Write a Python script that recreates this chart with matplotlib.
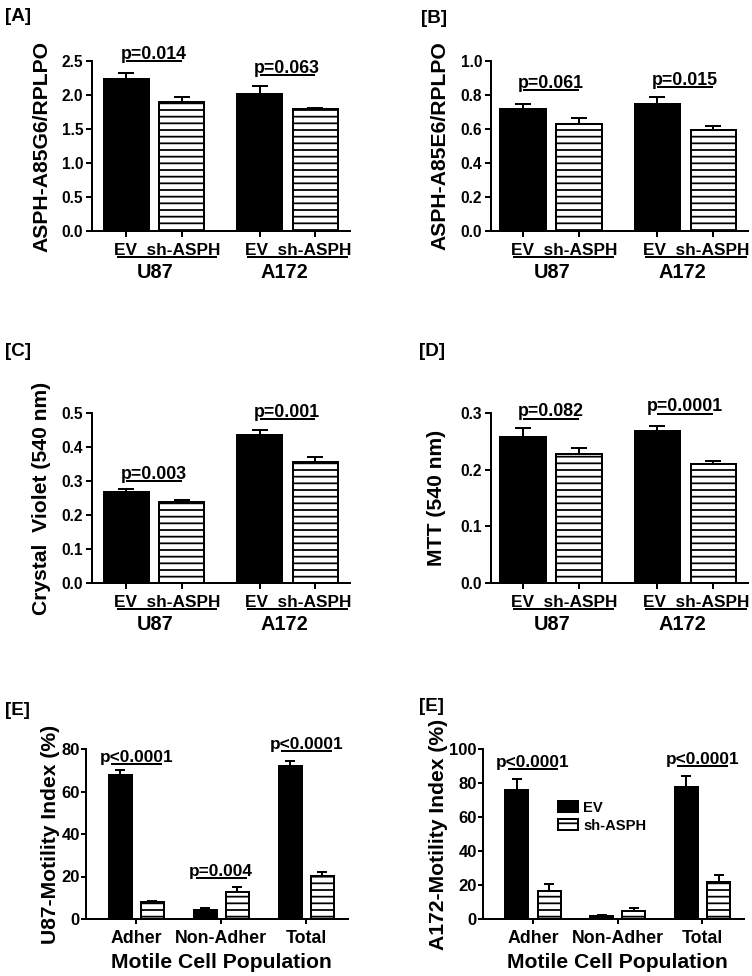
import matplotlib
matplotlib.use('Agg')
import matplotlib.pyplot as plt
import numpy as np
from matplotlib.ticker import FormatStrFormatter
from matplotlib.transforms import blended_transform_factory

plt.rcParams['font.family'] = ['Liberation Sans', 'DejaVu Sans']
plt.rcParams['font.weight'] = 'bold'
plt.rcParams['axes.labelweight'] = 'bold'
plt.rcParams['hatch.linewidth'] = 1.6
plt.rcParams['axes.linewidth'] = 1.8

conditions = ['EV', 'sh-ASPH']
cell_lines = ['U87', 'A172']
populations = ['Adher', 'Non-Adher', 'Total']

# [A] ASPH-A85G6/RPLPO  (values for U87, A172)
a_ev = [2.235, 2.01]
a_ev_err = [0.085, 0.12]
a_sh = [1.90, 1.79]
a_sh_err = [0.07, 0.02]
a_p = ['p=0.014', 'p=0.063']

# [B] ASPH-A85E6/RPLPO
b_ev = [0.718, 0.749]
b_ev_err = [0.029, 0.039]
b_sh = [0.630, 0.594]
b_sh_err = [0.033, 0.026]
b_p = ['p=0.061', 'p=0.015']

# [C] Crystal Violet
c_ev = [0.267, 0.436]
c_ev_err = [0.009, 0.015]
c_sh = [0.237, 0.357]
c_sh_err = [0.006, 0.015]
c_p = ['p=0.003', 'p=0.001']

# [D] MTT
d_ev = [0.2575, 0.2675]
d_ev_err = [0.016, 0.009]
d_sh = [0.228, 0.210]
d_sh_err = [0.011, 0.006]
d_p = ['p=0.082', 'p=0.0001']

# [E] motility index (Adher, Non-Adher, Total)
u87_ev = [67.9, 4.4, 71.8]
u87_ev_err = [2.2, 0.8, 2.4]
u87_sh = [7.8, 12.5, 20.1]
u87_sh_err = [0.8, 2.4, 2.0]
u87_p = ['p<0.0001', 'p=0.004', 'p<0.0001']

a172_ev = [75.7, 2.0, 77.6]
a172_ev_err = [6.8, 0.4, 6.3]
a172_sh = [16.7, 4.9, 22.0]
a172_sh_err = [4.1, 1.4, 3.9]
a172_p = ['p<0.0001', None, 'p<0.0001']

W, H = 752, 976
fig = plt.figure(figsize=(W / 80, H / 80), dpi=80)


def add_ax(left, top, right, bottom):
    return fig.add_axes([left / W, 1 - bottom / H, (right - left) / W, (bottom - top) / H])


def panel_label(text, x, top):
    fig.text(x / W, 1 - top / H, text, ha='left', va='top', fontsize=17, fontweight='bold')


def draw_bars(ax, x_ev, x_sh, width, ev, ev_err, sh, sh_err, capsize):
    b1 = ax.bar(x_ev, ev, width, color='black', edgecolor='black', linewidth=1.8)
    b2 = ax.bar(x_sh, sh, width, color='white', edgecolor='black', hatch='--', linewidth=1.8)
    for x, m, e in ((x_ev, ev, ev_err), (x_sh, sh, sh_err)):
        ax.errorbar(x, m, yerr=[np.zeros(len(e)), e], fmt='none', ecolor='black',
                    elinewidth=1.8, capsize=capsize, capthick=1.8)
    return b1, b2


def bracket(ax, x1, x2, y, label, fs):
    ax.plot([x1, x2], [y, y], color='black', lw=1.8, clip_on=False, solid_capstyle='butt')
    ax.annotate(label, xy=((x1 + x2) / 2, y), xytext=(0, 2), textcoords='offset points',
                ha='center', va='baseline', fontsize=fs, fontweight='bold', annotation_clip=False)


def style(ax, ytop, step, fmt, ylabel, label_dx, width_px, tick_fs, ylen, ypad):
    ax.spines[['top', 'right']].set_visible(False)
    ax.set_ylim(0, ytop)
    ax.set_yticks(np.arange(0, ytop + step / 2, step))
    ax.yaxis.set_major_formatter(FormatStrFormatter(fmt))
    ax.tick_params(axis='y', length=ylen, width=1.8, pad=ypad, labelsize=tick_fs)
    ax.set_ylabel(ylabel, fontsize=19, va='center')
    ax.yaxis.set_label_coords(-label_dx / width_px, 0.5)


# ---- panels A-D ----
group_x = np.array([0.0, 2.4])
bar_w = 0.81
group_lines = [(-0.17, 1.63), (2.18, 4.0)]
group_label_x = [0.52, 2.85]

panels = [
    ('[A]', (5, 8), (92, 61, 350, 231), (-0.62, 4.03), a_ev, a_ev_err, a_sh, a_sh_err, a_p,
     [2.5, 2.29], 2.5, 0.5, 'ASPH-A85G6/RPLPO', 50),
    ('[B]', (421, 10), (491, 61, 748, 231), (-0.57, 4.02), b_ev, b_ev_err, b_sh, b_sh_err, b_p,
     [0.83, 0.845], 1.0, 0.2, 'ASPH-A85E6/RPLPO', 51),
    ('[C]', (5, 343), (92, 413, 350, 583), (-0.62, 4.03), c_ev, c_ev_err, c_sh, c_sh_err, c_p,
     [0.30, 0.483], 0.5, 0.1, 'Crystal  Violet (540 nm)', 50),
    ('[D]', (419, 343), (491, 413, 748, 583), (-0.57, 4.02), d_ev, d_ev_err, d_sh, d_sh_err, d_p,
     [0.29, 0.299], 0.3, 0.1, 'MTT (540 nm)', 55),
]

for (lab, lab_pos, box, xlim, ev, ev_err, sh, sh_err, pvals, p_y, ytop, step,
     ylabel, ldx) in panels:
    ax = add_ax(*box)
    panel_label(lab, *lab_pos)
    draw_bars(ax, group_x, group_x + 1, bar_w, ev, ev_err, sh, sh_err, 7)
    ax.set_xlim(*xlim)
    style(ax, ytop, step, '%.1f', ylabel, ldx, box[2] - box[0], 14, 5.4, 2.5)
    ax.set_xticks(np.concatenate([[g, g + 1] for g in group_x]))
    ax.set_xticklabels([])
    ax.tick_params(axis='x', length=5.4, width=1.8)
    trans = blended_transform_factory(ax.transData, ax.transAxes)
    for (x1, x2), lx, name in zip(group_lines, group_label_x, cell_lines):
        ax.text((x1 + x2) / 2, -0.141, '  '.join(conditions), transform=trans,
                ha='center', va='baseline', fontsize=15.5, fontweight='bold')
        ax.plot([x1, x2], [-0.153, -0.153], transform=trans, color='black', lw=1.8,
                clip_on=False, solid_capstyle='butt')
        ax.text(lx, -0.2765, name, transform=trans, ha='center', va='baseline',
                fontsize=18, fontweight='bold')
    for g, p, y in zip(group_x, pvals, p_y):
        bracket(ax, g, g + 1, y, p, 16)

# ---- panels E ----
pop_x = np.arange(len(populations))
off = 0.19
e_w = 0.27

e_panels = [
    ('[E]', (5, 702), (86, 749, 348, 919), u87_ev, u87_ev_err, u87_sh, u87_sh_err, u87_p,
     [72.9, 19.3, 78.9], 80, 'U87-Motility Index (%)', 35),
    ('[E]', (419, 698), (483, 749, 744, 919), a172_ev, a172_ev_err, a172_sh, a172_sh_err, a172_p,
     [88.2, None, 89.8], 100, 'A172-Motility Index (%)', 44.5),
]

for (lab, lab_pos, box, ev, ev_err, sh, sh_err, pvals, p_y, ytop, ylabel, ldx) in e_panels:
    ax = add_ax(*box)
    panel_label(lab, *lab_pos)
    bars = draw_bars(ax, pop_x - off, pop_x + off, e_w, ev, ev_err, sh, sh_err, 4.5)
    ax.set_xlim(-0.59, 2.49)
    style(ax, ytop, 20, '%d', ylabel, ldx, box[2] - box[0], 15, 4.5, 1)
    ax.set_xticks(pop_x)
    ax.set_xticklabels(populations)
    ax.tick_params(axis='x', length=4.5, width=1.8, pad=5.5, labelsize=16)
    trans = blended_transform_factory(ax.transData, ax.transAxes)
    ax.text(1, -0.288, 'Motile Cell Population', transform=trans, ha='center',
            va='baseline', fontsize=19, fontweight='bold')
    for g, p, y in zip(pop_x, pvals, p_y):
        if p is not None:
            bracket(ax, g - 0.3, g + 0.3, y, p, 15.5)
    if ytop == 100:
        ax.legend(bars, conditions, loc='upper left', bbox_to_anchor=(0.2885, 0.697),
                  frameon=False, fontsize=13.3, handlelength=1.35, handleheight=0.85,
                  handletextpad=0.32, labelspacing=0.27, borderpad=0, borderaxespad=0)

plt.savefig('out.png', dpi=80)
